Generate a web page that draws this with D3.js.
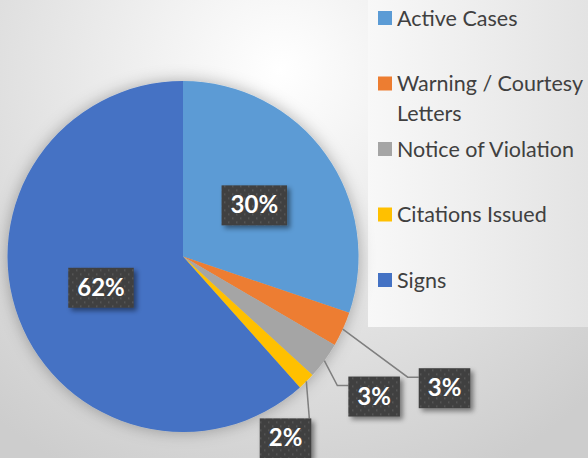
<!DOCTYPE html>
<html>
<head>
<meta charset="utf-8">
<script src="https://cdn.jsdelivr.net/npm/d3@7"></script>
<style>
    body { margin: 0; background: #ffffff; }
    svg { display: block; }
    .legendText { font-family: Lato, "Open Sans", sans-serif; font-size: 21.5px; fill: #404040; }
    .pctText { font-family: Lato, "Open Sans", sans-serif; font-size: 24px; font-weight: bold; fill: #ffffff; }
</style>
</head>
<body>
<div class="paint"></div>
<script>
// chart data
const categories = ["Active Cases", "Warning / Courtesy Letters", "Notice of Violation", "Citations Issued", "Signs"];
const values = [30.2, 3.2, 3.4, 1.6, 61.6];
const colors = ["#5b9bd5", "#ed7d31", "#a5a5a5", "#ffc000", "#4472c4"];
// where each percent label goes: inside the slice, or out on a leader line
const labelLayout = [
    { inside: true },
    { dx: 65, dy: 48, dir: "right" },
    { dx: 13, dy: 25, dir: "right" },
    { dx: 3, dy: 37, dir: "below" },
    { inside: true }
];

var chart;
(function (chart) {
    const W = 588, H = 458;
    const cx = 183, cy = 256.5, R = 175.5;

    function ini() {
        let svg = d3.select(".paint").append("svg")
            .attr("width", W).attr("height", H);
        let defs = svg.append("defs");

        let bg = defs.append("radialGradient").attr("id", "bgGrad")
            .attr("gradientUnits", "userSpaceOnUse")
            .attr("cx", 280).attr("cy", 70).attr("r", 450);
        bg.append("stop").attr("offset", "0").attr("stop-color", "#ffffff");
        bg.append("stop").attr("offset", "0.3").attr("stop-color", "#f0f0f0");
        bg.append("stop").attr("offset", "1").attr("stop-color", "#cdcdcd");

        let panel = defs.append("linearGradient").attr("id", "panelGrad")
            .attr("x1", 0).attr("x2", 1).attr("y1", 0).attr("y2", 0);
        panel.append("stop").attr("offset", "0").attr("stop-color", "#f8f8f8");
        panel.append("stop").attr("offset", "1").attr("stop-color", "#e3e3e3");

        let glow = defs.append("filter").attr("id", "pieGlow")
            .attr("x", "-20%").attr("y", "-20%").attr("width", "140%").attr("height", "140%");
        glow.append("feDropShadow").attr("dx", 0).attr("dy", 0)
            .attr("stdDeviation", 8).attr("flood-color", "#000").attr("flood-opacity", 0.3);

        let boxShadow = defs.append("filter").attr("id", "boxShadow")
            .attr("x", "-30%").attr("y", "-30%").attr("width", "160%").attr("height", "160%");
        boxShadow.append("feDropShadow").attr("dx", 3).attr("dy", 3)
            .attr("stdDeviation", 2.5).attr("flood-color", "#000").attr("flood-opacity", 0.45);

        let dots = defs.append("pattern").attr("id", "dots")
            .attr("patternUnits", "userSpaceOnUse").attr("width", 8).attr("height", 8);
        dots.append("rect").attr("width", 8).attr("height", 8).attr("fill", "#404040");
        dots.append("rect").attr("x", 1).attr("y", 1).attr("width", 1.5).attr("height", 1.5).attr("fill", "#5a5a5a");
        dots.append("rect").attr("x", 5).attr("y", 5).attr("width", 1.5).attr("height", 1.5).attr("fill", "#5a5a5a");

        svg.append("rect").attr("width", W).attr("height", H).attr("fill", "url(#bgGrad)");
        svg.append("rect").attr("x", 368).attr("y", 0).attr("width", W - 368).attr("height", 327)
            .attr("fill", "url(#panelGrad)");

        drawPie(svg);
        drawLegend(svg);
    }
    chart.ini = ini;

    function drawPie(svg) {
        let pie = d3.pie().sort(null).value((d) => d.value);
        let arcs = pie(categories.map((c, i) => ({ name: c, value: values[i], i: i })));
        let arc = d3.arc().innerRadius(0).outerRadius(R);
        let labelArc = d3.arc().innerRadius(R * 0.5).outerRadius(R * 0.5);
        let edgeArc = d3.arc().innerRadius(R).outerRadius(R);
        let total = d3.sum(values);

        let g = svg.append("g").attr("transform", "translate(" + cx + "," + cy + ")");
        g.append("g").attr("filter", "url(#pieGlow)")
            .selectAll("path").data(arcs).enter().append("path")
            .attr("d", arc)
            .attr("fill", (d) => colors[d.data.i]);

        let labels = g.append("g");
        arcs.forEach(function (d) {
            let lay = labelLayout[d.data.i];
            let txt = Math.round(d.data.value / total * 100) + "%";
            let lbl = labels.append("g");
            let t = lbl.append("text").attr("class", "pctText").text(txt);
            let tw = t.node().getComputedTextLength();
            let bw = tw + 18, bh = 40;
            let bx, by;
            if (lay.inside) {
                let c = labelArc.centroid(d);
                bx = c[0] - bw / 2;
                by = c[1] - bh / 2;
            }
            else {
                let e = edgeArc.centroid(d);
                let elbow = [e[0] + lay.dx, e[1] + lay.dy];
                let pts = [e, elbow];
                if (lay.dir == "right") {
                    pts.push([elbow[0] + 11, elbow[1]]);
                    bx = elbow[0] + 11;
                    by = elbow[1] - 9;
                }
                else {
                    bx = elbow[0] + 2 - bw;
                    by = elbow[1];
                }
                labels.insert("path", ":first-child")
                    .attr("d", d3.line()(pts))
                    .attr("fill", "none")
                    .attr("stroke", "#7f7f7f")
                    .attr("stroke-width", 1.5);
            }
            lbl.insert("rect", "text")
                .attr("x", bx).attr("y", by).attr("width", bw).attr("height", bh)
                .attr("fill", "url(#dots)")
                .attr("filter", "url(#boxShadow)");
            t.attr("x", bx + bw / 2).attr("y", by + bh / 2 + 8).attr("text-anchor", "middle");
        });
    }

    function drawLegend(svg) {
        let y = d3.scaleLinear().domain([0, categories.length - 1]).range([18, 280]);
        let maxW = 196;
        let legend = svg.append("g");
        let items = legend.selectAll(".legendItem").data(categories).enter().append("g")
            .classed("legendItem", true)
            .attr("transform", (d, i) => "translate(378," + y(i) + ")");
        items.append("rect")
            .attr("x", 0).attr("y", -7).attr("width", 14).attr("height", 14)
            .attr("fill", (d, i) => colors[i]);
        items.each(function (d) {
            let text = d3.select(this).append("text").attr("class", "legendText")
                .attr("x", 19).attr("y", 7.5);
            let words = d.split(" ");
            let line = [];
            let tspan = text.append("tspan").attr("x", 19).attr("dy", 0);
            words.forEach(function (w) {
                line.push(w);
                tspan.text(line.join(" "));
                if (tspan.node().getComputedTextLength() > maxW && line.length > 1) {
                    line.pop();
                    tspan.text(line.join(" "));
                    line = [w];
                    tspan = text.append("tspan").attr("x", 19).attr("dy", 30).text(w);
                }
            });
        });
    }
})(chart || (chart = {}));
chart.ini();
</script>
</body>
</html>
